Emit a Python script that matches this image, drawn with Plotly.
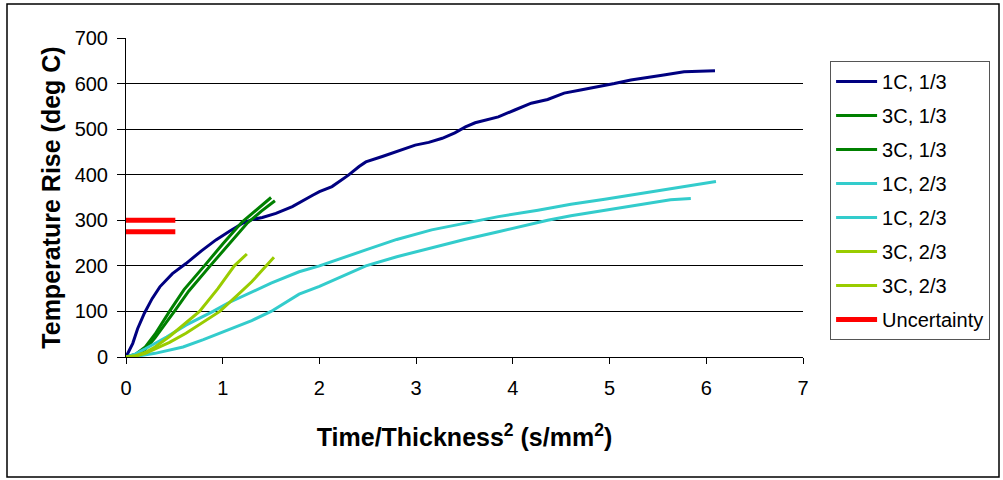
import plotly.graph_objects as go

# 1C, 1/3 (navy)
navy_x = [0, 0.03, 0.07, 0.12, 0.19, 0.27, 0.35, 0.48, 0.62, 0.78, 0.93, 1.07, 1.21, 1.31, 1.41, 1.55, 1.72, 1.93, 2.0, 2.13, 2.3, 2.41, 2.48, 2.65, 2.82, 2.99, 3.13, 3.27, 3.4, 3.51, 3.61, 3.71, 3.85, 4.02, 4.19, 4.36, 4.53, 4.7, 4.88, 5.05, 5.22, 5.4, 5.56, 5.77, 5.95, 6.09]
navy_y = [0, 12, 30, 62, 96, 128, 154, 183, 205, 233, 257, 276, 294, 302, 306, 315, 330, 355, 363, 374, 399, 418, 428, 440, 452, 465, 471, 480, 492, 505, 514, 520, 527, 542, 557, 565, 579, 586, 593, 600, 608, 613, 619, 626, 627, 628]

# 3C, 1/3 (green, two runs)
g1_x = [0, 0.1, 0.2, 0.3, 0.45, 0.6, 0.81, 1.0, 1.2, 1.35, 1.5]
g1_y = [0, 6, 22, 50, 100, 148, 200, 248, 296, 322, 350]
g2_x = [0, 0.1, 0.2, 0.3, 0.5, 0.65, 0.87, 1.05, 1.25, 1.4, 1.54]
g2_y = [0, 4, 17, 42, 100, 145, 200, 245, 293, 320, 343]

# 1C, 2/3 (cyan, two runs)
cu_x = [0, 0.1, 0.2, 0.3, 0.42, 0.62, 0.9, 1.05, 1.27, 1.5, 1.79, 2.0, 2.48, 2.8, 3.16, 3.64, 3.85, 4.26, 4.6, 4.95, 5.3, 5.63, 5.9, 6.1]
cu_y = [0, 7, 18, 30, 44, 70, 100, 118, 140, 162, 187, 200, 235, 258, 279, 300, 308, 322, 335, 346, 358, 370, 378, 385]
cl_x = [0, 0.15, 0.3, 0.59, 0.8, 0.97, 1.1, 1.3, 1.5, 1.79, 2.0, 2.48, 2.8, 3.16, 3.5, 3.85, 4.36, 4.6, 4.95, 5.3, 5.63, 5.84]
cl_y = [0, 3, 8, 22, 38, 52, 62, 80, 100, 138, 155, 200, 220, 240, 258, 275, 300, 310, 322, 334, 345, 348]

# 3C, 2/3 (yellow-green, two runs)
la_x = [0, 0.1, 0.2, 0.3, 0.45, 0.6, 0.76, 0.95, 1.12, 1.25]
la_y = [0, 3, 10, 22, 45, 72, 100, 150, 200, 226]
lb_x = [0, 0.1, 0.2, 0.3, 0.45, 0.62, 0.8, 0.97, 1.15, 1.3, 1.45, 1.53]
lb_y = [0, 2, 8, 17, 32, 52, 76, 100, 135, 165, 200, 219]

# Uncertainty band
unc_x = [0, 0.51]
unc_hi = [300, 300]
unc_lo = [275, 275]

names = ["1C, 1/3", "3C, 1/3", "3C, 1/3", "1C, 2/3", "1C, 2/3", "3C, 2/3", "3C, 2/3", "Uncertainty"]

NAVY = "#000080"
GREEN = "#008000"
CYAN = "#33CCCC"
LGREEN = "#99CC00"
RED = "#FF0000"

series = [
    (navy_x, navy_y, NAVY, 3),
    (g1_x, g1_y, GREEN, 3),
    (g2_x, g2_y, GREEN, 3),
    (cu_x, cu_y, CYAN, 3),
    (cl_x, cl_y, CYAN, 3),
    (la_x, la_y, LGREEN, 3),
    (lb_x, lb_y, LGREEN, 3),
]

fig = go.Figure()
for i, (xs, ys, col, w) in enumerate(series):
    fig.add_trace(go.Scatter(x=xs, y=ys, mode="lines", name=names[i],
                             line=dict(color=col, width=w), legendgroup=str(i)))

fig.add_trace(go.Scatter(x=unc_x, y=unc_hi, mode="lines", name=names[7],
                         line=dict(color=RED, width=5), legendgroup="7"))
fig.add_trace(go.Scatter(x=unc_x, y=unc_lo, mode="lines", name=names[7],
                         line=dict(color=RED, width=5), legendgroup="7", showlegend=False))

FONT = "Liberation Sans, Arial, sans-serif"

fig.update_layout(
    width=1003, height=480,
    margin=dict(l=126, r=200, t=38, b=123),
    paper_bgcolor="white", plot_bgcolor="white",
    font=dict(family=FONT, color="black", size=20),
    showlegend=True,
    legend=dict(
        x=1.04, y=0.928, xanchor="left", yanchor="top",
        bgcolor="white", bordercolor="#555555", borderwidth=1,
        font=dict(size=20, family=FONT, color="black"),
        traceorder="grouped", tracegroupgap=5, itemwidth=41,
    ),
    xaxis=dict(
        range=[0, 7], tickvals=[0, 1, 2, 3, 4, 5, 6, 7],
        showgrid=False, zeroline=False,
        showline=True, linecolor="black", linewidth=1,
        ticks="outside", ticklen=6, tickcolor="black",
        tickfont=dict(size=20, family=FONT), ticklabelstandoff=7,
        title=dict(text="Time/Thickness<sup>2</sup> (s/mm<sup>2</sup>)",
                   font=dict(size=25, family=FONT, weight="bold"), standoff=30),
    ),
    yaxis=dict(
        range=[0, 700], tickvals=[0, 100, 200, 300, 400, 500, 600, 700],
        showgrid=True, gridcolor="black", gridwidth=1, zeroline=False,
        showline=True, linecolor="black", linewidth=1,
        ticks="outside", ticklen=8, tickcolor="black",
        tickfont=dict(size=20, family=FONT), ticklabelstandoff=5,
        title=dict(text="Temperature Rise (deg C)",
                   font=dict(size=25, family=FONT, weight="bold"), standoff=6),
    ),
    shapes=[dict(type="rect", xref="paper", yref="paper",
                 x0=(7 - 126) / 677, x1=(999 - 126) / 677,
                 y0=(357 - 477) / 319, y1=(357 - 4) / 319,
                 line=dict(color="black", width=1.5), fillcolor="rgba(0,0,0,0)",
                 layer="below")],
)

fig.write_html("out.html", config={"displayModeBar": False},
               post_script="document.body.style.margin='0';document.body.style.overflow='hidden';")
